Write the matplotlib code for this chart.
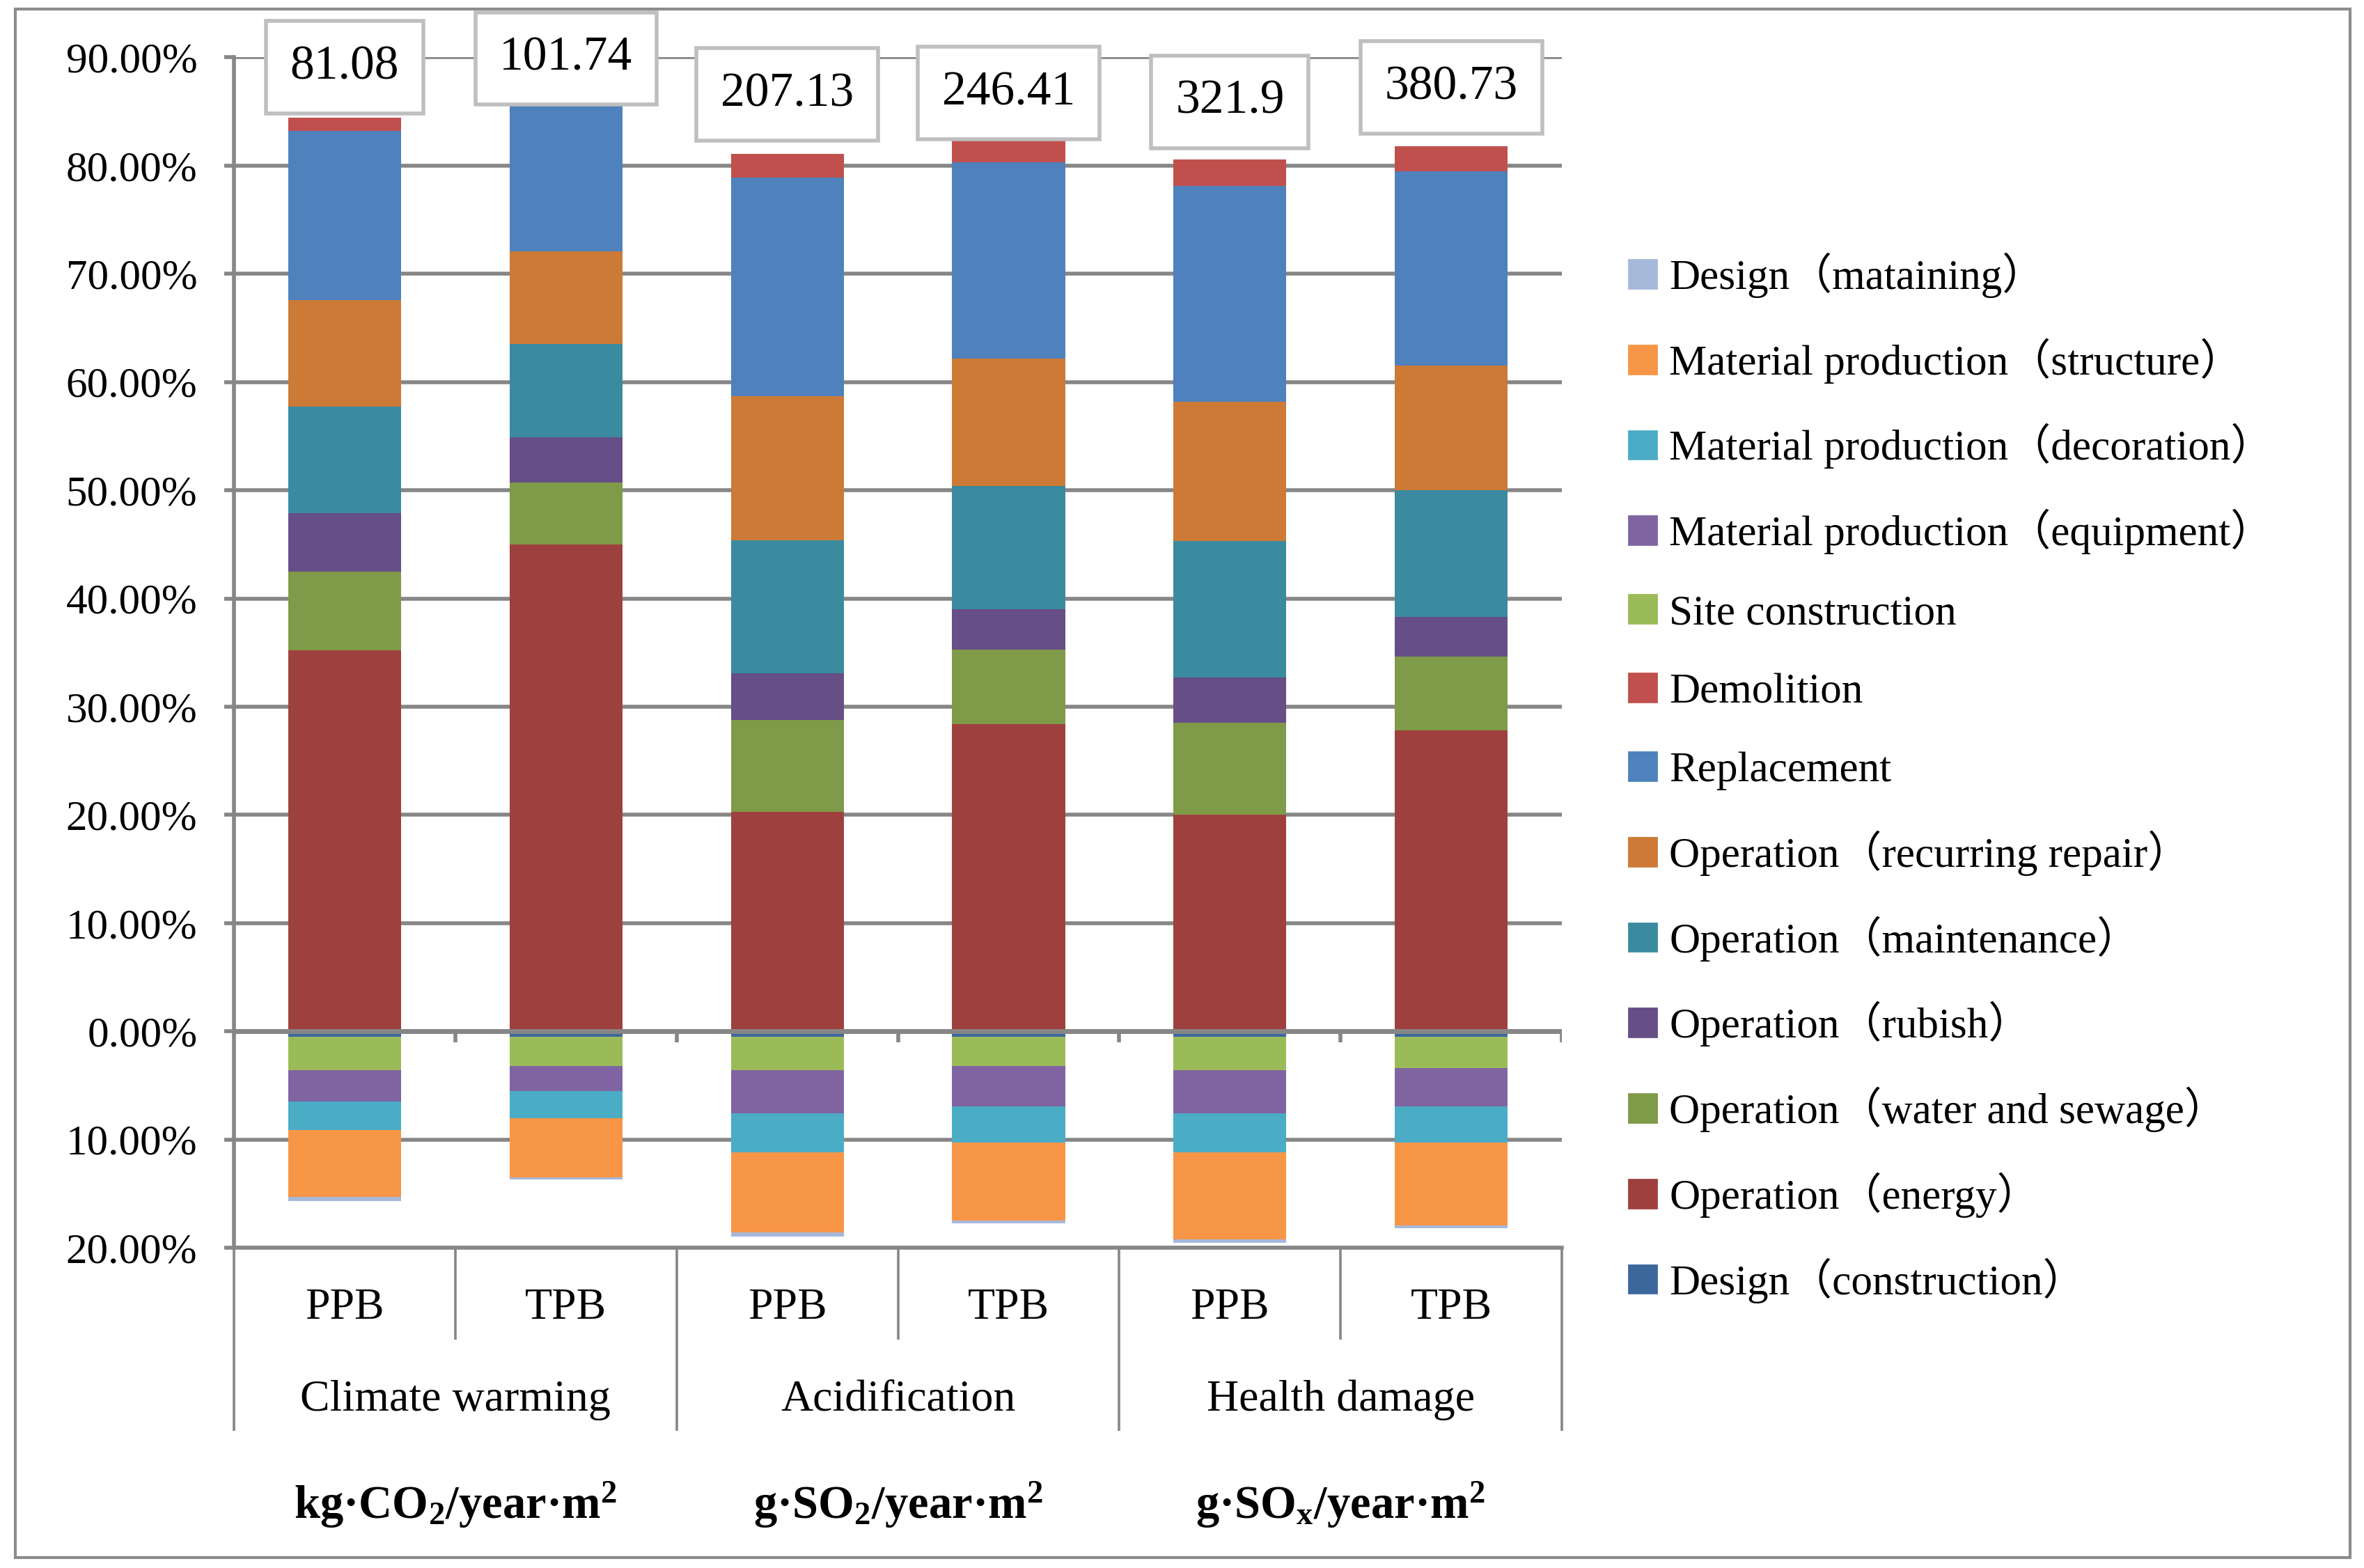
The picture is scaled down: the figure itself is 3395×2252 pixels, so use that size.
import numpy as np
import matplotlib.pyplot as plt
from matplotlib.ticker import FuncFormatter
from matplotlib.patches import Rectangle

plt.rcParams['font.family'] = ['Liberation Serif', 'Noto Sans CJK SC', 'DejaVu Sans']
plt.rcParams['mathtext.default'] = 'regular'

bars = ['PPB', 'TPB', 'PPB', 'TPB', 'PPB', 'TPB']
groups = ['Climate warming', 'Acidification', 'Health damage']
units = [r'kg·CO$_2$/year·m$^2$', r'g·SO$_2$/year·m$^2$', r'g·SO$_x$/year·m$^2$']
totals = ['81.08', '101.74', '207.13', '246.41', '321.9', '380.73']

# positive shares (%), bottom -> top
op_energy = [35.2, 45.0, 20.3, 28.4, 20.0, 27.8]
op_water = [7.3, 5.7, 8.5, 6.9, 8.5, 6.8]
op_rubish = [5.4, 4.2, 4.3, 3.7, 4.2, 3.7]
op_maint = [9.8, 8.6, 12.3, 11.4, 12.6, 11.7]
op_repair = [9.9, 8.6, 13.3, 11.8, 12.9, 11.5]
replacement = [15.6, 13.4, 20.2, 18.1, 19.9, 18.0]
demolition = [1.2, 0.8, 2.2, 2.0, 2.5, 2.3]

# negative shares (%), from 0 downwards
design_con = [0.5, 0.5, 0.5, 0.5, 0.5, 0.5]
site = [3.1, 2.7, 3.1, 2.7, 3.1, 2.9]
mat_equip = [2.9, 2.3, 4.0, 3.7, 4.0, 3.5]
mat_decor = [2.6, 2.5, 3.6, 3.4, 3.6, 3.4]
mat_struct = [6.2, 5.5, 7.4, 7.2, 8.0, 7.6]
design_maint = [0.35, 0.2, 0.35, 0.25, 0.35, 0.3]

pos = [
    ('Operation（energy）', op_energy, '#9E413E'),
    ('Operation（water and sewage）', op_water, '#7F9A48'),
    ('Operation（rubish）', op_rubish, '#664E87'),
    ('Operation（maintenance）', op_maint, '#3A8BA0'),
    ('Operation（recurring repair）', op_repair, '#CC7A36'),
    ('Replacement', replacement, '#4F81BD'),
    ('Demolition', demolition, '#C0504D'),
]
neg = [
    ('Design（construction）', design_con, '#3C679D'),
    ('Site construction', site, '#9BBB59'),
    ('Material production（equipment）', mat_equip, '#8064A2'),
    ('Material production（decoration）', mat_decor, '#4BACC6'),
    ('Material production（structure）', mat_struct, '#F79646'),
    ('Design（mataining）', design_maint, '#A7B9DA'),
]
legend_order = ['Design（mataining）', 'Material production（structure）',
                'Material production（decoration）', 'Material production（equipment）',
                'Site construction', 'Demolition', 'Replacement',
                'Operation（recurring repair）', 'Operation（maintenance）',
                'Operation（rubish）', 'Operation（water and sewage）',
                'Operation（energy）', 'Design（construction）']
label_y = [89.1, 89.9, 86.6, 86.7, 85.9, 87.2]

grey = '#868686'
fig = plt.figure(figsize=(16.975, 11.26), dpi=200)
ax = fig.add_axes([0.099, 0.2042, 0.5617, 0.7592])
x = np.arange(6)
w = 0.51
colors = {}

bottom = np.zeros(6)
for name, vals, c in pos:
    v = np.array(vals)
    ax.bar(x, v, w, bottom=bottom, color=c, zorder=3)
    bottom += v
    colors[name] = c
bottom = np.zeros(6)
for name, vals, c in neg:
    v = np.array(vals)
    ax.bar(x, -v, w, bottom=bottom, color=c, zorder=3)
    bottom -= v
    colors[name] = c

ax.set_xlim(-0.5, 5.5)
ax.set_ylim(-20, 90)
ax.set_yticks(range(-20, 91, 10))
ax.yaxis.set_major_formatter(FuncFormatter(lambda v, p: f'{abs(v):.2f}%'))
ax.yaxis.grid(True, color=grey, lw=2)
ax.set_axisbelow(True)
ax.axhline(0, color=grey, lw=2.5, zorder=5)
ax.vlines(np.arange(0.5, 6, 1), -1, 0, color=grey, lw=2, zorder=5)
ax.set_xticks([])
ax.tick_params(axis='y', direction='out', length=5, width=2, color=grey,
               labelsize=22, pad=14)
for s in ['top', 'right']:
    ax.spines[s].set_visible(False)
for s in ['left', 'bottom']:
    ax.spines[s].set_color(grey)
    ax.spines[s].set_linewidth(2)

tr = ax.get_xaxis_transform()
ax.vlines([-0.5, 1.5, 3.5, 5.5], -0.1536, 0, color=grey, lw=1.3,
          transform=tr, clip_on=False)
ax.vlines([0.5, 2.5, 4.5], -0.0774, 0, color=grey, lw=1.3,
          transform=tr, clip_on=False)
for i, b in enumerate(bars):
    ax.text(i, -0.0508, b, transform=tr, ha='center', va='center', fontsize=23)
for g in range(3):
    ax.text(2 * g + 0.5, -0.128, groups[g], transform=tr, ha='center',
            va='center', fontsize=23)
    ax.text(2 * g + 0.5, -0.216, units[g], transform=tr, ha='center',
            va='center', fontsize=24, fontweight='bold')

for i, t in enumerate(totals):
    ax.text(i, label_y[i], t, ha='center', va='center', fontsize=25, zorder=6,
            clip_on=False,
            bbox=dict(boxstyle='square,pad=0.5', fc='white', ec='#BFBFBF', lw=2))

handles = [Rectangle((0, 0), 1, 1, color=colors[n]) for n in legend_order]
fig.legend(handles, legend_order, loc='upper left', bbox_to_anchor=(0.689, 0.839),
           frameon=False, fontsize=22, handlelength=0.65, handleheight=0.65,
           handletextpad=0.3, labelspacing=0.94, borderpad=0, borderaxespad=0)

fig.patches.append(Rectangle((0.0064, 0.0067), 0.9878, 0.9875,
                             transform=fig.transFigure, fill=False,
                             ec='#8C8C8C', lw=1.5))
fig.savefig('out.png', dpi=200)
